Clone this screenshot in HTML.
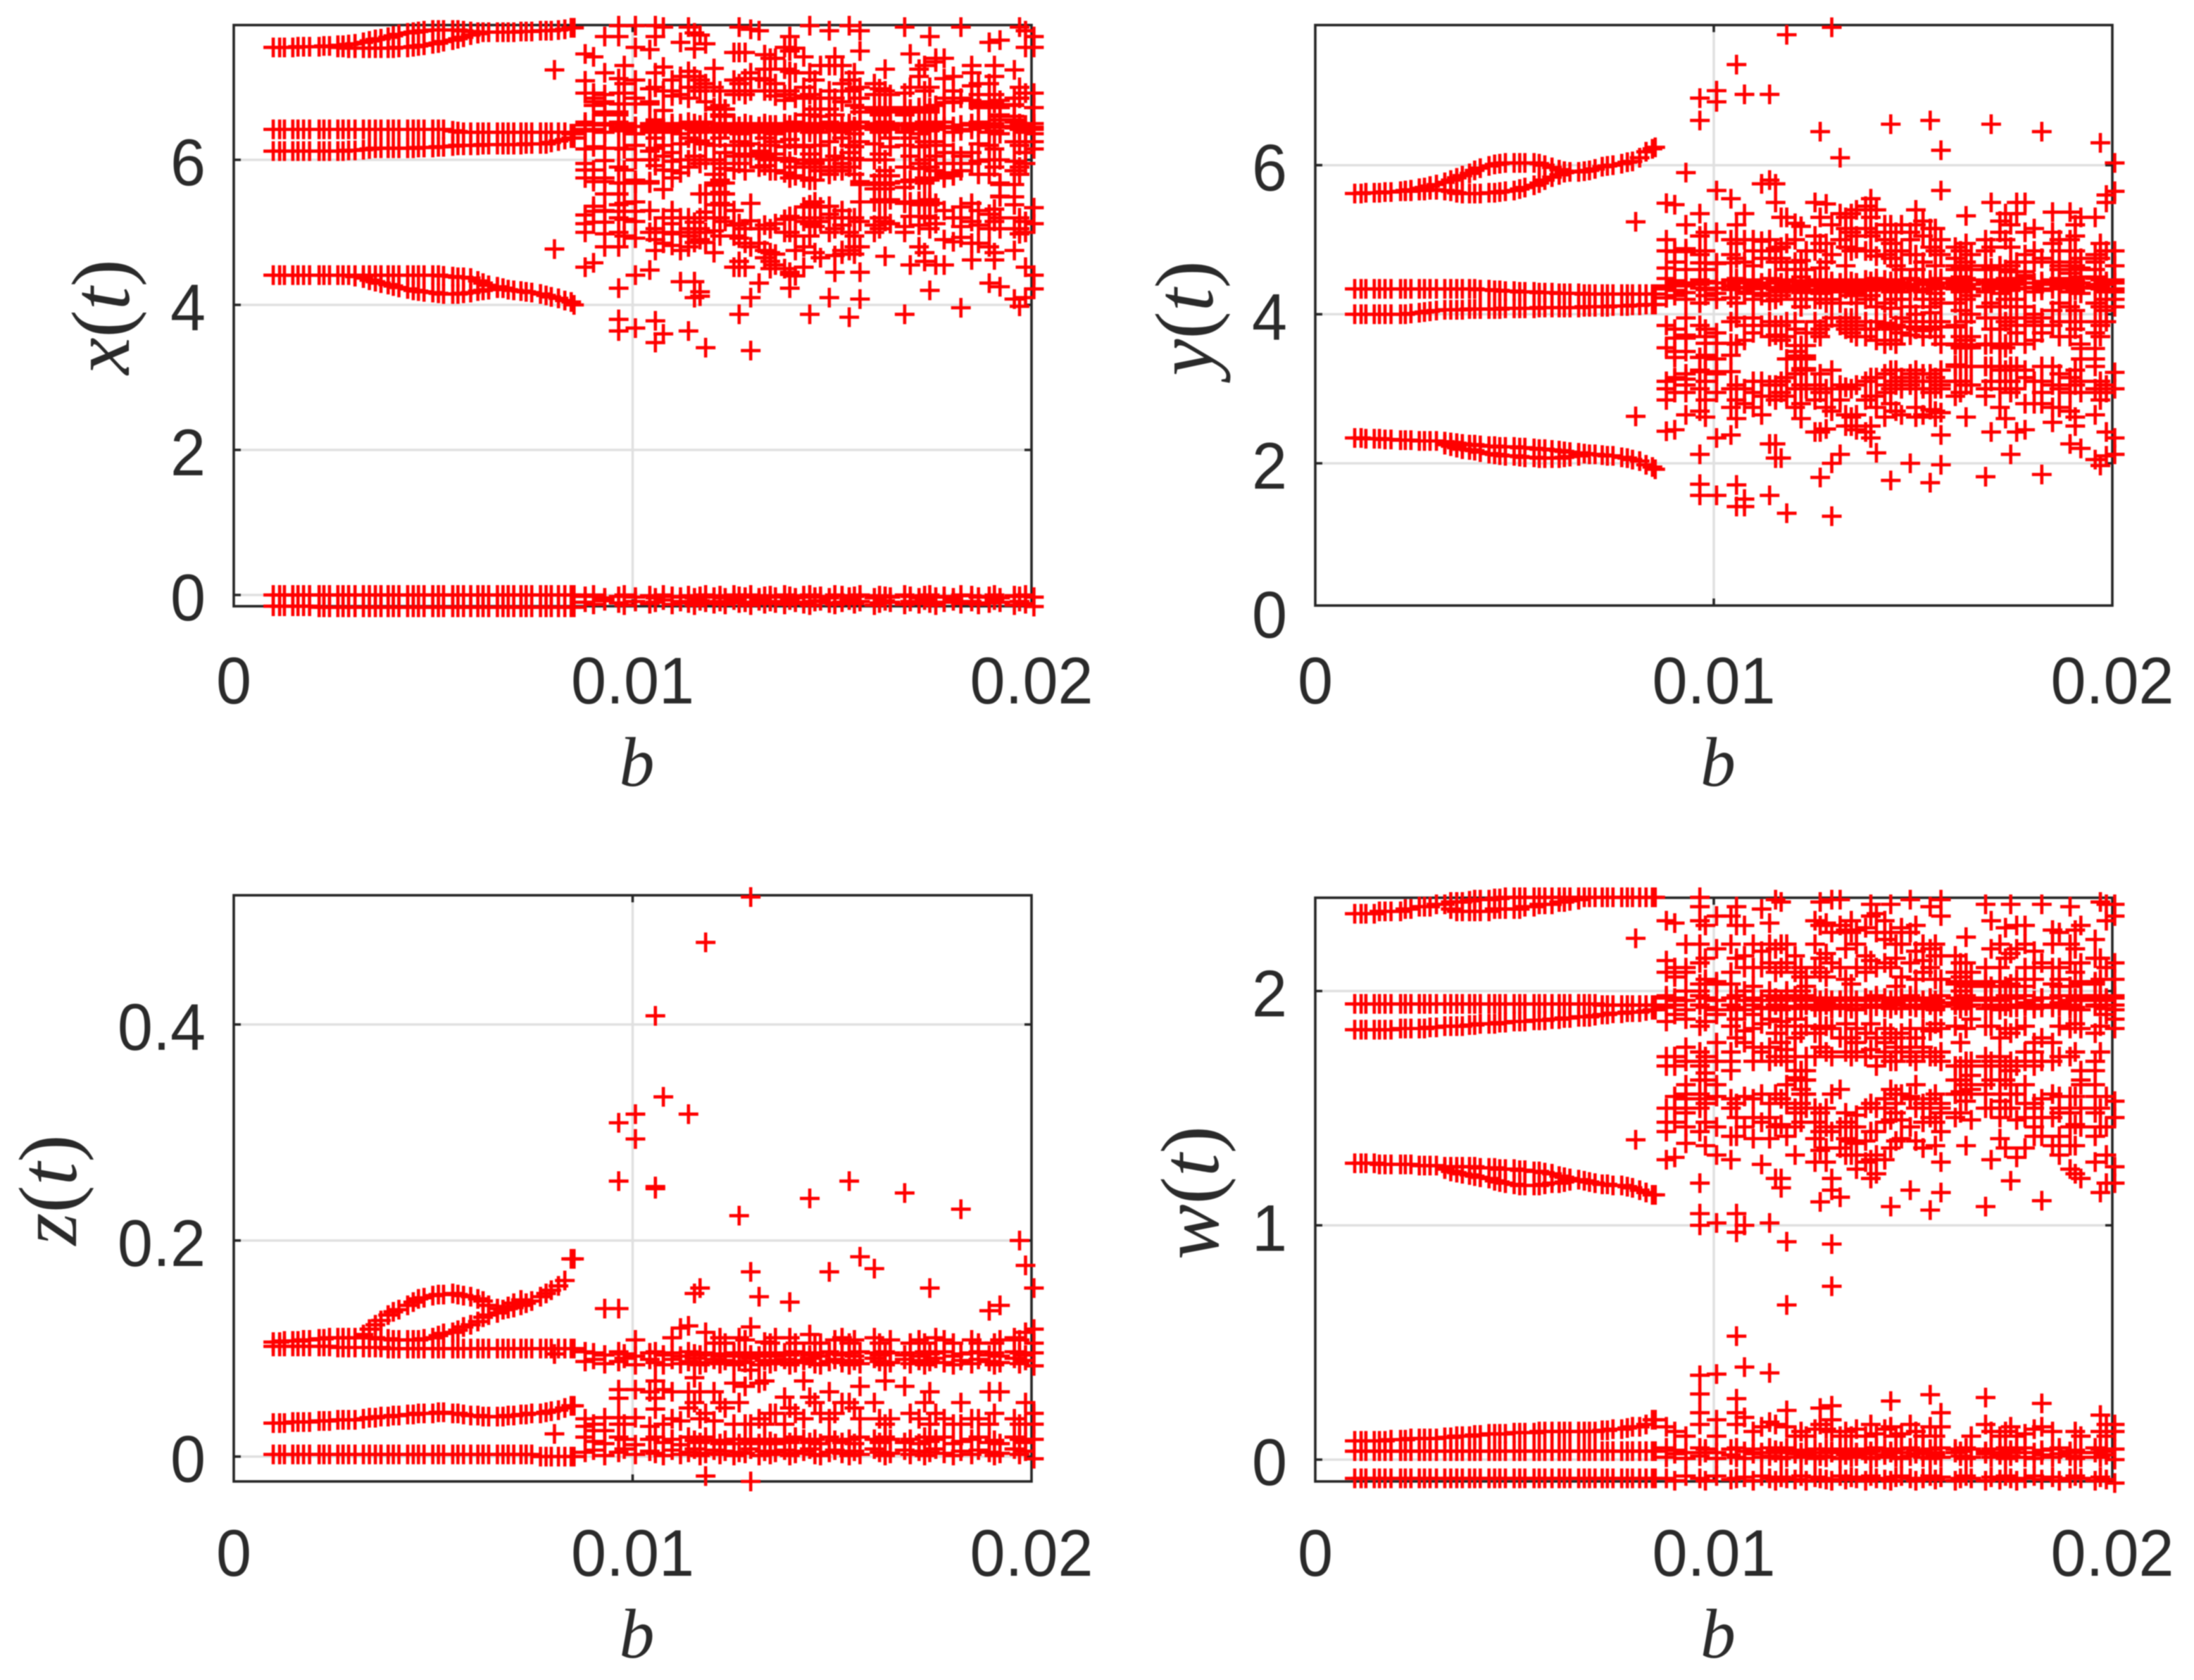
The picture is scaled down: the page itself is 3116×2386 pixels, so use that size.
<!DOCTYPE html>
<html lang="en">
<head>
<meta charset="utf-8">
<title>Bifurcation diagrams of x(t), y(t), z(t), w(t) against b</title>
<style>
html,body{margin:0;padding:0;background:#fff;width:3116px;height:2386px;overflow:hidden}
svg{display:block;filter:blur(.7px)}
text{font-family:"Liberation Sans",sans-serif;fill:#2a2a2a}
.math{font-family:"Liberation Serif",serif;fill:#2a2a2a}
</style>
</head>
<body>
<svg id="figure" width="3116" height="2386" viewBox="0 0 3116 2386"></svg>
<script>
/* b values are stored in thousandths (b × 1000) */
const bPeriodic=[.99,1.15,1.27,1.48,1.61,1.75,1.9,2.14,2.26,2.4,2.61,2.74,2.88,3.04,3.25,3.4,3.55,3.69,3.87,4,4.14,4.36,4.5,4.63,4.77,4.99,5.13,5.26,5.49,5.62,5.76,5.94,6.12,6.25,6.39,6.61,6.75,6.88,7.02,7.2,7.33,7.47,7.69,7.83,7.96,8.14,8.3,8.46,8.53];
const bChaos=[8.04,8.81,9.02,9.3,9.65,9.79,10.07,10.43,10.57,10.77,10.99,11.2,11.4,11.55,11.69,11.83,12.04,12.19,12.32,12.54,12.67,12.82,12.96,13.17,13.31,13.45,13.58,13.81,13.94,14.08,14.29,14.44,14.57,14.71,14.93,15.07,15.25,15.43,15.56,15.7,16.06,16.19,16.33,16.46,16.82,16.96,17.18,17.32,17.45,17.6,17.81,18.04,18.23,18.5,18.67,18.94,19.07,19.21,19.57,19.7,19.85,20.06];
const bLump=[9.02,9.3,9.65,9.79,10.07,10.43,12.04,12.19,12.32,13.31,13.58,14.29,14.57,14.93,15.25,15.7,16.06,16.33,16.82,17.18,17.45,17.81,18.04,18.67,18.94,19.21,19.57];
const xTickValues=[0,10,20];
const xTickLabels=['0','0.01','0.02'];

/* x(t) */
const xTicksY=[0,2,4,6];
const xBranchTopUpper=[7.55,7.55,7.55,7.55,7.56,7.56,7.56,7.56,7.57,7.57,7.58,7.58,7.59,7.6,7.62,7.64,7.66,7.67,7.69,7.71,7.73,7.75,7.76,7.77,7.78,7.79,7.79,7.79,7.79,7.79,7.78,7.77,7.76,7.76,7.76,7.76,7.76,7.76,7.76,7.77,7.77,7.77,7.78,7.78,7.78,7.79,7.8,7.82,7.82];
const xBranchTopLower=[,,,,,,,,,,7.55,7.55,7.54,7.54,7.54,7.54,7.54,7.54,7.54,7.54,7.55,7.55,7.56,7.57,7.58,7.6,7.61,7.63,7.65,7.67,7.69,7.72,7.74];
const xBranchMidUpper=[6.42,6.42,6.42,6.42,6.42,6.42,6.42,6.42,6.42,6.42,6.42,6.42,6.42,6.42,6.42,6.42,6.42,6.42,6.42,6.42,6.42,6.42,6.42,6.42,6.42,6.42,6.42,6.42,6.4,6.39,6.38,6.38,6.38,6.38,6.38,6.38,6.38,6.38,6.38,6.38,6.38,6.38,6.38,6.38,6.38,6.38,6.38,6.36,6.36];
const xBranchMidLower=[6.12,6.12,6.12,6.12,6.12,6.12,6.12,6.12,6.12,6.12,6.12,6.12,6.13,6.13,6.14,6.15,6.16,6.16,6.16,6.16,6.16,6.16,6.16,6.17,6.17,6.17,6.18,6.18,6.19,6.2,6.2,6.2,6.2,6.21,6.21,6.21,6.21,6.21,6.21,6.21,6.22,6.22,6.22,6.22,6.24,6.26,6.28,6.3,6.3];
const xBranchLowUpper=[4.41,4.41,4.41,4.41,4.41,4.41,4.41,4.41,4.41,4.41,4.41,4.41,4.41,4.41,4.41,4.41,4.41,4.41,4.41,4.41,4.41,4.41,4.41,4.41,4.41,4.41,4.41,4.4,4.39,4.38,4.38,4.37,4.33,4.3,4.27,4.25,4.23,4.21,4.2,4.19,4.18,4.17,4.15,4.13,4.11,4.09,4.06,4.04,4];
const xBranchLowLower=[,,,,,,,,,,,,,4.39,4.37,4.34,4.32,4.3,4.28,4.26,4.24,4.22,4.2,4.19,4.18,4.17,4.16,4.15,4.15,4.15,4.16,4.17,4.19,4.2,4.21,4.23];
const xBranchZero=[0,0,0,0,0,0,0,0,0,0,0,0,0,0,0,0,0,0,0,0,0,0,0,0,0,0,0,0,0,0,0,0,0,0,0,0,0,0,0,0,0,0,0,0,0,0,0,0,0];
const xBranchFloor=[-.155,-.155,-.155,-.155,-.155,-.155,-.155,-.17,-.17,-.17,-.17,-.17,-.17,-.17,-.17,-.17,-.17,-.17,-.17,-.17,-.17,-.17,-.17,-.17,-.17,-.17,-.17,-.17,-.17,-.17,-.17,-.17,-.17,-.17,-.17,-.17,-.17,-.17,-.17,-.17,-.17,-.17,-.17,-.17,-.17,-.17,-.17,-.17,-.17];
const xCoreA=[,6.52,6.5,6.48,6.52,6.5,6.46,6.5,6.52,6.48,6.5,6.46,6.52,6.5,6.48,6.52,6.5,6.46,6.48,6.5,6.46,6.5,6.48,6.46,6.5,6.48,6.46,6.5,6.48,6.52,6.5,6.48,6.5,6.46,6.52,6.5,6.48,6.5,6.46,6.52,6.5,6.48,6.52,6.5,6.48,6.5,6.46,6.52,6.48,6.5,6.52,6.46,6.48,6.5,6.52,6.48,6.5,6.46,6.52,6.5,6.48,6.5];
const xCoreB=[,6.42,6.4,6.38,6.44,6.42,6.36,6.42,6.44,6.38,6.42,6.36,6.44,6.42,6.38,6.44,6.4,6.38,6.42,6.4,6.36,6.42,6.38,6.4,6.42,6.38,6.36,6.42,6.4,6.44,6.42,6.38,6.42,6.38,6.44,6.4,6.38,6.42,6.36,6.44,6.42,6.38,6.44,6.42,6.38,6.42,6.36,6.44,6.4,6.42,6.44,6.38,6.4,6.42,6.44,6.38,6.4,6.36,6.44,6.42,6.38,6.42];
const xFloorA=[,-.02,0,-.04,-.02,0,-.03,-.01,-.04,0,-.02,-.03,-.01,-.04,-.02,0,-.03,-.01,-.04,0,-.02,-.03,0,-.04,-.02,-.01,-.03,0,-.02,-.04,-.01,0,-.03,-.02,-.04,0,-.01,-.03,-.02,0,-.04,-.01,-.02,-.03,0,-.02,-.04,-.01,0,-.03,-.02,-.04,0,-.01,-.03,-.02,0,-.04,-.01,-.02,0,-.03];
const xFloorB=[,-.1,-.13,-.08,-.11,-.14,-.09,-.12,-.1,-.07,-.13,-.09,-.11,-.14,-.08,-.1,-.12,-.09,-.13,-.07,-.11,-.1,-.14,-.08,-.12,-.09,-.11,-.13,-.07,-.1,-.12,-.14,-.09,-.08,-.11,-.13,-.1,-.07,-.12,-.09,-.14,-.11,-.08,-.1,-.13,-.09,-.12,-.07,-.11,-.14,-.1,-.08,-.12,-.09,-.13,-.11,-.07,-.1,-.14,-.09,-.12,-.16];
const xLump=[[6.85,6.8,5.75,5.29],[6.66,6.8,5.75,5.53,5.29],[6.77,6.66,5.53,5.68,5.29],[6.77,5.68,5.29],[6.77,5.68,5.29],[6.77,5.68,6],[6.7,5.68,5.38],[6.7,6.6,5.68,5.38,5.53],[6.7,6.6,5.53,5.38],[6.08,6.02],[6.08,6.02],[5.9,5.95],[5.9,5.95],[5.9,5.85],[5.9,5.95],[6.72,6.66,5.66,5.42],[6.72,6.66,5.66,5.6,5.42],[6.72,6.66,5.66,5.6,5.42],[6.72,6.66,5.62,5.42],[6.72,6.66,5.42,5.38],[6.72,6.66,5.42,5.38],[6.79,5.82,5.78],[6.79,5.82,5.78],[6.76,6.72],[6.76,6.72],[6.76,6.6,6.55,5.66,5.49],[6.76,6.6,6.55,5.66,5.49]];
const xCloud=[[7.24,4.77],[7.46,7.09,6.92,6.48,6.4,6.15,5.95,5.86,5.75,5.24,5.12,5,4.52],[7.42,6.92,6.75,6.5,6.42,6.18,5.86,5.7,5.36,5.14,4.58],[7.7,7.2,6.9,6.78,6.62,6.5,6.38,6.16,5.99,5.7,5.3,5.14,4.98,4.8],[7.85,7.7,7.12,6.92,6.62,6.5,6.42,6.16,5.9,5.53,5.38,5.2,5,4.8,4.23,3.8,3.64],[7.3,7.05,6.92,6.48,6.4,6.15,5.86,5.68,5.4,5.18,4.95],[7.85,7.55,7.1,6.85,6.46,6.36,6.2,6,5.72,5.68,5.42,5.15,4.92,4.41,3.68],[7.52,6.98,6.8,6.46,6.38,6.12,6,5.7,5.3,5,4.48],[7.85,7.7,7.2,7,6.55,6.42,6.3,6.16,5.92,5.05,4.9,4.75,3.78,3.48],[7.83,7.28,6.95,6.68,6.45,6.2,6.05,5.86,5.59,5.2,5,4.85,3.6],[7.1,6.95,6.88,6.46,6.38,6.1,5.98,5.85,5.75,5.3,5.12,4.98,4.82],[7.62,7.15,6.9,6.5,6.22,6,5.82,5.2,5,4.75,4.32],[7.83,7.22,7,6.85,6.44,6.3,6,5.9,5.2,5.05,4.95,4.8,3.64],[7.75,7.53,7.15,7,6.45,6.25,6.05,5.14,5,4.86,4.32,4.1],[7.72,7.1,6.95,6.48,6.26,5.95,5.53,5.2,5.05,4.9,4.18,4.12],[7.6,7.05,6.8,6.42,6.22,6,5.53,5.28,5,4.86,3.41],[7.26,7,6.72,6.5,6.2,6,5.8,5.65,5.2,5.02,4.72],[6.95,6.75,6.62,6.48,6.3,5.95,5.72,5.55,5.4,5.2,4.95],[6.7,6.62,6.42,6.1,5.88,5.68,5.53,5.38,5.15],[7.48,7.1,6.9,6.46,6.2,6.05,5.86,5.3,5.1,4.95,4.52],[7.83,7.48,7.05,6.95,6.46,6.25,6.05,5.95,5.12,4.92,4.6,4.52,3.87],[7.48,7.12,6.9,6.42,6.2,6.08,5.85,5.05,4.85,4.52],[7.8,7.2,6.95,6.45,6.22,6.05,5.4,5.16,4.8,4.1,3.37],[7.78,7.12,6.42,6.12,5.9,5.05,4.85,4.3],[7.45,7.25,7.1,6.95,6.46,6.3,6.05,5.92,5.1,4.75,4.65],[7.4,7.25,6.95,6.45,6.2,6,5.85,5.05,4.72,4.6,4.5],[7.4,7.05,6.88,6.48,6.25,6.02,5.85,5.12,4.7,4.55],[7.55,7.25,6.9,6.82,6.46,6.18,6.02,5.82,5.18,5,4.5],[7.7,7.5,7.22,6.95,6.44,6.28,5.98,5.75,5.22,5,4.45,4.42,4.23],[7.54,7.2,6.85,6.48,6.2,5.9,5.78,5.2,4.95,4.75,4.4],[7.42,7,6.88,6.62,6.46,6.18,6,5.75,5.35,5.15,4.8,4.52],[7.85,7.2,6.9,6.62,6.46,6.08,5.95,5.72,5.38,5.12,4.95,3.87],[7.1,6.85,6.7,6.45,6.2,5.98,5.72,5.42,5.2,5.08,4.72],[7.3,6.85,6.6,6.48,6.2,6,5.85,5.35,5.15,4.65],[7.78,7.3,6.95,6.7,6.46,6.25,6,5.8,5.36,5.25,5,4.1],[7.42,7.3,6.85,6.62,6.44,6.05,5.85,5.2,5.05,4.68,4.45],[7.3,7.05,6.8,6.5,6.3,6.02,5.85,5.3,5.1,4.75,4.7],[7.85,7.1,6.95,6.48,6.2,6.1,5.9,5.2,5,4.75,3.83],[7.2,6.98,6.75,6.45,6.18,6.02,5.8,5.2,4.95,4.8,4.7],[7.78,7.5,7,6.85,6.46,6.25,6,5.7,5.42,5.15,4.8,4.45,4.08],[7.05,6.9,6.7,6.46,6.22,6,5.68,5.42,5.1,5],[6.98,6.72,6.62,6.44,6.08,5.78,5.68,5.45,5.2,5.05],[7.25,6.95,6.72,6.5,6.42,6,5.85,5.68,5.42,5.15,4.67],[6.9,6.7,6.46,6.3,6.18,5.78,5.68,5.45,5.12],[7.83,6.92,6.7,6.62,6.48,6.2,5.9,5.7,5.4,5.08,5,3.87],[7.46,7,6.7,6.44,6.3,6.05,5.72,5.42,5.22,4.55],[7.25,7.15,6.72,6.48,6.18,5.95,5.88,5.72,5.43,5.1,4.8],[7.3,6.95,6.68,6.45,6.25,6,5.75,5.68,5.42,5.22,4.72,4.6],[7.7,7,6.7,6.5,6.2,5.9,5.72,5.45,5.2,5.05,4.2],[7.4,7.35,6.75,6.46,6.25,6.05,5.85,5.4,5.12,4.55],[7.4,7.12,6.85,6.46,6.2,6.1,5.95,5.75,5.3,4.9,4.55],[7.15,6.95,6.8,6.44,6.1,5.95,5.78,5.2,4.87],[7.83,6.85,6.42,6.05,5.85,5.35,5.2,5.08,4.93,3.96],[7.3,7.2,7.02,6.82,6.5,6.1,5.95,5.4,5.15,4.85,4.62],[7.05,6.9,6.78,6.46,6.22,5.98,5.8,5.3,5.1,4.85],[7.62,7.05,6.8,6.45,6.2,6,5.8,5.25,5.05,4.8,4.3],[7.3,7.15,6.9,6.78,6.46,6.15,5.9,5.32,5.15,4.72,4.62],[7.65,6.82,6.72,6.62,6.45,6,5.68,5.5,5.2,5.05,4.25],[7.24,6.85,6.75,6.46,6.25,5.98,5.85,5.38,5.05,4.75,4.08],[7.83,7,6.85,6.42,6.2,5.9,5.8,5.2,5.05,4.98,3.98],[7.78,7.55,6.92,6.4,6.25,6.1,5.95,5.15,5,4.52,4.1],[7.7,7.55,6.92,6.72,6.45,6.36,6.25,6.15,5.34,5.12,4.41,4.22]];

/* y(t) */
const yTicksY=[0,2,4,6];
const yBranchTopUpper=[5.62,5.62,5.63,5.63,5.63,5.64,5.64,5.65,5.66,5.67,5.69,5.7,5.72,5.74,5.77,5.8,5.83,5.86,5.89,5.93,5.96,5.99,6.01,6.02,6.03,6.03,6.03,6.03,6.03,6.02,6,5.97,5.94,5.92,5.91,5.91,5.92,5.93,5.95,5.98,5.99,6,6.02,6.04,6.05,6.1,6.18,6.22,6.24];
const yBranchTopLower=[,,,,,,,,5.65,5.65,5.66,5.66,5.67,5.67,5.66,5.65,5.63,5.62,5.62,5.62,5.62,5.63,5.63,5.64,5.65,5.66,5.68,5.7,5.73,5.76,5.8,5.84,5.87,5.9];
const yBranchMidUpper=[4.34,4.34,4.34,4.34,4.34,4.34,4.34,4.34,4.34,4.34,4.34,4.34,4.34,4.34,4.34,4.34,4.34,4.34,4.34,4.34,4.33,4.33,4.32,4.32,4.31,4.31,4.3,4.3,4.3,4.29,4.29,4.29,4.28,4.28,4.28,4.28,4.27,4.27,4.27,4.27,4.27,4.27,4.27,4.27,4.27,4.27,4.27,4.27,4.27];
const yBranchMidLower=[4,4,4,4,4,4,4,4,4,4.01,4.02,4.03,4.04,4.05,4.06,4.06,4.06,4.06,4.07,4.07,4.07,4.07,4.07,4.07,4.08,4.08,4.08,4.08,4.08,4.09,4.09,4.09,4.09,4.09,4.09,4.09,4.1,4.1,4.1,4.1,4.1,4.11,4.11,4.11,4.12,4.12,4.13,4.13,4.13];
const yBranchLowUpper=[2.34,2.34,2.33,2.33,2.33,2.32,2.32,2.31,2.31,2.31,2.3,2.3,2.3,2.3,2.29,2.28,2.27,2.26,2.25,2.25,2.24,2.23,2.23,2.22,2.22,2.22,2.21,2.21,2.2,2.19,2.19,2.18,2.17,2.16,2.15,2.14,2.13,2.12,2.12,2.11,2.1,2.1,2.08,2.07,2.05,2.03,1.98,1.95,1.92];
const yBranchLowLower=[,,,,,,,,,,,,,,2.25,2.23,2.21,2.19,2.18,2.17,2.15,2.13,2.12,2.11,2.1,2.1,2.09,2.08,2.08,2.07,2.07,2.07,2.07,2.08,2.09,2.1];
const yCoreA=[,4.48,4.45,4.42,4.46,4.44,4.42,4.46,4.48,4.44,4.46,4.42,4.48,4.45,4.42,4.46,4.44,4.42,4.44,4.46,4.42,4.46,4.44,4.42,4.46,4.44,4.42,4.46,4.44,4.48,4.46,4.44,4.46,4.42,4.48,4.46,4.44,4.46,4.42,4.48,4.46,4.44,4.48,4.46,4.44,4.46,4.42,4.48,4.44,4.46,4.48,4.42,4.44,4.46,4.48,4.44,4.46,4.42,4.48,4.46,4.44,4.46];
const yCoreB=[,4.34,4.32,4.29,4.35,4.33,4.28,4.33,4.35,4.3,4.34,4.28,4.35,4.33,4.3,4.35,4.32,4.29,4.33,4.32,4.28,4.34,4.3,4.32,4.34,4.3,4.28,4.34,4.32,4.35,4.34,4.3,4.34,4.3,4.35,4.32,4.3,4.34,4.28,4.35,4.34,4.3,4.35,4.34,4.3,4.34,4.28,4.35,4.32,4.34,4.35,4.3,4.32,4.34,4.35,4.3,4.32,4.28,4.35,4.34,4.3,4.34];
const yLump=[[4.84,3.68,3.13],[4.84,3.68,3.13,3.05],[4.69,3.42,3.23],[4.69,3.61,3.42,3.23],[4.69,3.61,3.23],[4.69,3.61,3.23],[3.9,3.58,3.44,3],[3.58,3.44,3.27,3],[3.58,3.44,3.27],[3.9,3.85,3.02],[3.85,3.8],[3.88,3.82,3.05],[3.83,3.1],[3.83,3.1,3.15],[3.83,3.78,3.1],[3.83,3.1,3.05],[4.65,3.59,3.3,3.83],[4.65,3.59,3.3],[4.65,4.6,3.59,3.3],[4.65,3.59,3.3,3.25],[4.57,3.3],[4.57,4.52,3.25],[3.9,3.1],[4.6,3.05],[4.55,3.05],[4.6,4.5,3.54,3.4],[4.6,4.5,3.54,3.4]];
const yCloud=[[5.24,2.63],[5.49,5,4.85,4.62,4.38,4.22,3.85,3.55,3.1,3,2.85,2.43],[5.47,4.85,4.7,4.42,4.25,3.8,3.5,3.42,3.15,2.95,2.45],[5.9,5.2,4.88,4.6,4.38,4.2,3.95,3.72,3.5,3.2,2.95,2.65],[6.9,6.6,5.35,5.05,4.8,4.4,4.15,3.85,3.42,3.25,3,2.7,2.12,1.72,1.57],[5.1,4.85,4.6,4.35,4.25,3.8,3.7,3.45,3.1,2.85,2.62],[7,6.85,5.66,5.1,4.68,4.35,4.2,3.75,3.4,3.2,2.95,2.34,1.57],[5.55,5,4.8,4.38,4.22,3.9,3.45,3,2.75,2.38],[7.35,5.2,4.95,4.75,4.42,4.15,3.95,3.6,3.05,2.85,2.6,1.71,1.42],[6.95,5.35,5,4.7,4.36,4.28,3.85,3.65,3,2.8,1.52,1.42],[5,4.85,4.65,4.4,4.2,3.95,3.75,3.1,2.95,2.75],[5.75,4.98,4.75,4.38,4.25,3.85,3.1,2.9,2.65],[6.95,5.8,5,4.85,4.42,4.18,3.9,3.7,3.05,2.9,2.26,1.57],[5.75,5.5,4.88,4.7,4.36,4.2,3.85,3.72,3.05,2.85,2.26,2.07],[5.3,4.9,4.75,4.42,4.25,3.85,3.65,3.1,2.95,2.07],[7.75,5.3,4.95,4.6,4.38,3.9,3.7,3.4,3.15,2.9,1.33],[5.22,5,4.7,4.45,4.2,3.8,3.5,3.42,3.2,2.75],[5.18,4.72,4.5,4.36,4.1,3.42,3.25,3.05,2.8,2.6],[4.85,4.6,4.4,4.2,3.75,3.4,3.25,3],[5.5,5.05,4.85,4.42,4.2,3.9,3.75,3.05,2.85,2.42],[6.45,5.3,4.95,4.62,4.38,4.2,3.8,3.7,3.2,2.95,2.42,1.81],[5.48,4.95,4.7,4.36,4.15,3.85,3,2.75,2.46],[7.85,5.2,4.8,4.4,4.2,3.95,3.25,3,2.7,2,1.29],[6.1,5.35,5,4.42,4.15,3.85,3.05,2.85,2.12],[5.3,5.15,4.9,4.65,4.38,3.95,3.8,3.02,2.65,2.5],[5.35,5.1,4.85,4.36,4.25,3.95,3.75,3,2.62,2.5],[5.4,5.05,4.88,4.42,4.15,3.9,3.7,3.05,2.65,2.45],[5.45,5.15,4.85,4.4,4.2,3.9,3.7,3.1,2.85,2.42],[5.55,5.3,5.05,4.85,4.38,4.25,3.8,3.15,2.9,2.5,2.34],[5.4,5.1,4.78,4.42,4.1,3.9,3.65,3.15,2.9,2.75,2.14],[5.2,5,4.8,4.38,4.15,3.85,3.6,3.2,2.95,2.62],[6.55,5.2,4.95,4.75,4.4,4.08,3.8,3.65,3.25,3,2.8,1.77],[5.1,4.85,4.65,4.36,4.2,3.85,3.6,3.25,3.05,2.7],[5.2,4.85,4.6,4.42,4.2,3.95,3.75,3.15,3,2.65],[5.1,5,4.8,4.38,4.1,3.9,3.72,3.2,3.05,2],[5.4,5.2,4.8,4.6,4.4,4,3.8,3.25,3,2.75,2.62],[5.25,5.05,4.7,4.42,4.2,3.9,3.7,3.2,3,2.65],[6.6,5.15,4.9,4.4,4.1,4.02,3.8,3.2,2.95,2.72,1.74],[5.15,4.85,4.65,4.38,4.2,3.9,3.7,3.15,3,2.7,2.62],[6.2,5.66,5,4.8,4.42,4.15,3.9,3.6,3.25,3,2.68,2.38,1.98],[4.9,4.75,4.6,4.38,4.15,3.85,3.6,3.32,3.1,2.9],[4.85,4.62,4.5,4.42,4.05,3.7,3.55,3.3,3.1,2.95],[5.32,4.95,4.7,4.38,4.2,3.9,3.65,3.55,3.3,3.05,2.62],[4.8,4.6,4.4,4.25,4,3.7,3.55,3.3,3.05],[5,4.85,4.6,4.42,4.1,3.95,3.6,3.3,3,2.9,1.82],[6.55,5.5,4.9,4.62,4.38,4.15,3.8,3.6,3.3,3.1,2.42],[5.25,5.1,4.65,4.4,4.1,3.95,3.8,3.55,3.25,3,2.75],[5.35,5,4.6,4.42,4.2,3.9,3.6,3.55,3.25,3.1,2.6],[5.2,4.9,4.65,4.38,4.1,3.85,3.6,3.3,3.1,2.95,2.12],[5.5,5.35,4.7,4.4,4.2,3.95,3.75,3.3,3,2.42],[5.5,5.1,4.8,4.42,4.1,3.95,3.85,3.6,3.15,2.8,2.45],[5.15,4.85,4.7,4.36,4,3.85,3.65,3.1,2.8],[6.45,4.75,4.4,3.95,3.75,3.3,3.1,2.95,2.8,1.85],[5.37,5.1,4.95,4.7,4.42,4.05,3.85,3.3,3.05,2.75,2.55],[5,4.85,4.65,4.38,4.15,3.9,3.7,3.2,3,2.75],[5.37,5,4.7,4.42,4.1,3.9,3.7,3.15,2.95,2.7,2.26],[5.2,5.05,4.85,4.65,4.4,4.05,3.8,3.25,3.05,2.62,2.5],[5.3,4.75,4.62,4.36,3.9,3.6,3.4,3.1,2.95,2.2],[5.3,4.8,4.7,4.4,4.15,3.9,3.75,3.3,3,2.65,2.05],[6.3,4.95,4.75,4.38,4.1,3.85,3.7,3.1,2.95,2.85,1.97],[5.6,5.5,4.85,4.4,4.2,4.05,3.9,3.05,2.95,2.42,2.1],[6.03,5.65,4.85,4.65,4.42,4.3,4.2,4.1,3.22,3,2.34,2.12]];

/* z(t) */
const zTicksY=[0,.2,.4];
const zBranchTopUpper=[.106,.106,.107,.107,.107,.108,.108,.109,.109,.11,.11,.11,.11,.11,.113,.118,.122,.126,.131,.134,.136,.14,.143,.146,.147,.149,.15,.15,.151,.15,.149,.148,.146,.144,.14,.137,.136,.137,.138,.14,.142,.144,.148,.151,.154,.158,.163,.183,.183];
const zBranchTopLower=[,,,,,,,,,,,,,,.111,.11,.11,.109,.109,.108,.108,.108,.108,.108,.109,.11,.112,.114,.115,.117,.12,.122,.125,.129,.131,.133,.136,.139,.142,.145];
const zBranchFlat=[.102,.102,.102,.102,.102,.102,.102,.102,.102,.102,.101,.101,.101,.101,.101,.101,.101,.101,.1,.1,.1,.1,.1,.1,.1,.1,.1,.1,.1,.1,.1,.1,.1,.1,.1,.1,.1,.1,.1,.1,.1,.1,.1,.1,.1,.1,.1,.1,.1];
const zBranchLow=[.031,.031,.031,.032,.032,.032,.032,.033,.033,.033,.034,.034,.034,.034,.035,.036,.036,.037,.037,.038,.038,.039,.039,.04,.04,.04,.041,.041,.04,.04,.039,.038,.038,.037,.037,.037,.037,.038,.038,.039,.039,.04,.04,.041,.042,.043,.045,.047,.047];
const zBranchFloor=[.002,.002,.002,.002,.002,.002,.002,.002,.002,.002,.002,.002,.002,.002,.002,.002,.002,.002,.002,.002,.002,.002,.002,.002,.002,.002,.002,.002,.002,.002,.002,.002,.002,.002,.002,.002,.002,.002,.002,.002,.002,.002,0,0,0,0,0,0,0];
const zBandA=[,.097,.096,.094,.097,.095,.093,.096,.097,.094,.096,.093,.097,.095,.094,.096,.095,.093,.095,.096,.093,.096,.094,.093,.096,.095,.093,.096,.094,.097,.096,.094,.096,.093,.097,.095,.094,.096,.093,.097,.096,.094,.097,.096,.094,.096,.093,.097,.095,.096,.097,.093,.095,.096,.097,.094,.096,.093,.097,.096,.094,.096];
const zBandB=[,.088,.09,.086,.088,.091,.085,.09,.087,.085,.09,.086,.088,.091,.085,.087,.09,.086,.089,.085,.088,.087,.091,.085,.089,.086,.088,.09,.085,.087,.089,.091,.086,.085,.088,.09,.087,.085,.089,.086,.091,.088,.085,.087,.09,.086,.089,.085,.088,.091,.087,.085,.089,.086,.09,.088,.085,.087,.091,.086,.089,.084];
const zFloorA=[,.018,.014,.012,.018,.016,.011,.016,.018,.013,.016,.011,.018,.015,.013,.018,.015,.012,.015,.016,.012,.016,.013,.012,.016,.014,.012,.016,.013,.018,.016,.013,.016,.012,.018,.015,.013,.016,.012,.018,.016,.013,.018,.016,.013,.016,.012,.018,.014,.016,.018,.012,.014,.016,.018,.013,.015,.012,.018,.016,.013,.016];
const zFloorB=[,.004,.006,.001,.004,.007,.002,.005,.003,.001,.006,.002,.004,.007,.001,.003,.006,.002,.005,.001,.004,.003,.007,.001,.005,.002,.004,.006,.001,.003,.005,.007,.002,.001,.004,.006,.003,.001,.005,.002,.007,.004,.001,.003,.006,.002,.005,.001,.004,.007,.003,.001,.005,.002,.006,.004,.001,.003,.007,.002,.005,-.002];
const zCloud=[[.095,.021],[.028,.035],[.024,.03],[.137,.036,.024],[.309,.255,.137,.062,.054,.036,.03],[.03],[.317,.294,.062,.036,.108],[.06,.028],[.408,.248,.25,.07,.054,.044],[.333,.062,.03],[.06,.035,.11],[.119,.033],[.317,.121,.045,.06],[.151,.073,.05],[.156,.06,.035],[.476,.115,.04,-.018],[.06,.033,.105],[.05,.11],[.045,.105],[.068,.03],[.223,.11,.05],[.065,.108,.03],[.518,.171,.12,.08,.03,-.023],[.148,.068,.035],[.07,.03,.106],[.105,.04],[.04,.11],[.055,.03],[.143,.11,.045],[.105,.04],[.07,.035],[.239,.113,.055],[.05,.105],[.04,.105],[.171,.06,.035],[.108,.04],[.11,.05],[.255,.105,.05],[.045,.108],[.185,.065,.035],[.174,.11,.05],[.105,.035],[.07,.03],[.108,.035],[.244,.065],[.105,.04],[.108,.035],[.105,.05],[.156,.06,.03],[.11,.04],[.108,.035],[.105,.03],[.229,.05,.03],[.108,.035],[.105,.035],[.135,.06,.03],[.105,.04],[.14,.108,.06],[.11,.035],[.2,.108,.03],[.177,.115,.05,.03],[.156,.118,.105,.04,.03]];

/* w(t) */
const wTicksY=[0,1,2];
const wBranchTopUpper=[2.33,2.33,2.33,2.33,2.34,2.34,2.34,2.34,2.35,2.35,2.36,2.36,2.36,2.37,2.37,2.38,2.38,2.38,2.385,2.39,2.39,2.39,2.395,2.395,2.4,2.4,2.4,2.4,2.4,2.4,2.4,2.4,2.4,2.4,2.4,2.4,2.4,2.4,2.4,2.4,2.4,2.4,2.4,2.4,2.4,2.4,2.4,2.4,2.4];
const wBranchTopLower=[,,,,,,,,,,,,,,,2.35,2.34,2.34,2.34,2.34,2.34,2.34,2.35,2.35,2.35,2.35,2.35,2.36,2.36,2.37,2.37,2.37,2.38,2.38,2.385,2.39];
const wBranchMidUpper=[1.945,1.945,1.945,1.945,1.945,1.945,1.945,1.945,1.945,1.945,1.945,1.945,1.945,1.945,1.945,1.945,1.945,1.945,1.945,1.945,1.945,1.945,1.945,1.945,1.945,1.945,1.945,1.945,1.945,1.945,1.945,1.945,1.945,1.945,1.945,1.945,1.945,1.945,1.945,1.94,1.94,1.94,1.94,1.94,1.94,1.94,1.94,1.94,1.94];
const wBranchMidLower=[1.835,1.835,1.835,1.835,1.835,1.835,1.835,1.84,1.84,1.84,1.84,1.84,1.845,1.845,1.85,1.85,1.85,1.85,1.855,1.855,1.86,1.86,1.86,1.865,1.865,1.87,1.87,1.87,1.875,1.875,1.875,1.88,1.88,1.885,1.885,1.89,1.89,1.89,1.895,1.9,1.9,1.905,1.905,1.91,1.91,1.91,1.915,1.92,1.92];
const wBranchLowUpper=[1.265,1.265,1.265,1.265,1.26,1.26,1.26,1.26,1.26,1.26,1.255,1.255,1.255,1.255,1.25,1.25,1.25,1.25,1.25,1.25,1.245,1.245,1.245,1.24,1.24,1.24,1.235,1.235,1.23,1.23,1.225,1.22,1.21,1.205,1.2,1.195,1.19,1.185,1.18,1.175,1.175,1.17,1.17,1.165,1.16,1.15,1.14,1.13,1.13];
const wBranchLowLower=[,,,,,,,,,,,,,,1.24,1.23,1.225,1.22,1.215,1.21,1.205,1.2,1.19,1.185,1.18,1.175,1.17,1.17,1.17,1.17,1.175,1.18,1.18,1.185,1.19];
const wBranchZeroUpper=[.08,.08,.08,.08,.08,.08,.085,.085,.085,.09,.09,.09,.09,.09,.095,.095,.1,.1,.1,.105,.105,.11,.11,.11,.11,.115,.115,.115,.115,.12,.12,.12,.12,.12,.12,.12,.12,.12,.12,.125,.125,.13,.13,.135,.14,.14,.15,.17,.17];
const wBranchZeroMiddle=[.036,.036,.036,.036,.036,.036,.036,.036,.036,.036,.036,.036,.036,.036,.036,.036,.036,.036,.036,.036,.036,.036,.036,.036,.036,.036,.036,.036,.036,.036,.036,.036,.036,.036,.036,.036,.036,.036,.036,.036,.036,.036,.036,.036,.036,.036,.036,.036,.036];
const wBranchFloor=[-.08,-.08,-.08,-.08,-.08,-.08,-.08,-.08,-.08,-.08,-.08,-.08,-.08,-.08,-.08,-.08,-.08,-.08,-.08,-.08,-.08,-.08,-.08,-.08,-.08,-.08,-.08,-.08,-.08,-.08,-.08,-.08,-.08,-.08,-.08,-.08,-.08,-.08,-.08,-.08,-.08,-.08,-.08,-.08,-.08,-.08,-.08,-.08,-.08];
const wCoreA=[,1.98,1.97,1.96,1.98,1.97,1.96,1.97,1.98,1.96,1.97,1.96,1.98,1.97,1.96,1.98,1.97,1.96,1.97,1.97,1.96,1.97,1.96,1.96,1.97,1.97,1.96,1.97,1.96,1.98,1.97,1.96,1.97,1.96,1.98,1.97,1.96,1.97,1.96,1.98,1.97,1.96,1.98,1.97,1.96,1.97,1.96,1.98,1.97,1.97,1.98,1.96,1.97,1.97,1.98,1.96,1.97,1.96,1.98,1.97,1.96,1.97];
const wCoreB=[,1.93,1.94,1.92,1.94,1.93,1.92,1.94,1.93,1.92,1.94,1.925,1.93,1.94,1.92,1.935,1.93,1.925,1.94,1.93,1.92,1.94,1.925,1.93,1.94,1.925,1.92,1.94,1.93,1.935,1.94,1.925,1.94,1.925,1.935,1.93,1.925,1.94,1.92,1.935,1.94,1.925,1.935,1.94,1.925,1.94,1.92,1.935,1.93,1.94,1.935,1.925,1.93,1.94,1.935,1.925,1.93,1.92,1.935,1.94,1.925,1.94];
const wLowA=[,.05,.04,.03,.05,.045,.03,.045,.05,.035,.045,.03,.05,.04,.035,.05,.04,.03,.04,.045,.03,.045,.035,.03,.045,.04,.03,.045,.035,.05,.045,.035,.045,.03,.05,.04,.035,.045,.03,.05,.045,.035,.05,.045,.035,.045,.03,.05,.04,.045,.05,.03,.04,.045,.05,.035,.04,.03,.05,.045,.035,.045];
const wLowB=[,.01,.025,.005,.015,.03,.005,.02,.01,.005,.025,.01,.015,.03,.005,.01,.025,.01,.02,.005,.015,.01,.03,.005,.02,.01,.015,.025,.005,.01,.02,.03,.01,.005,.015,.025,.01,.005,.02,.01,.03,.015,.005,.01,.025,.01,.02,.005,.015,.03,.01,.005,.02,.01,.025,.015,.005,.01,.03,.01,.02,0];
const wLowC=[,-.08,-.09,-.07,-.08,-.09,-.07,-.085,-.08,-.075,-.09,-.07,-.08,-.09,-.075,-.08,-.085,-.07,-.09,-.075,-.08,-.085,-.09,-.07,-.085,-.075,-.08,-.09,-.07,-.08,-.085,-.09,-.075,-.07,-.08,-.09,-.08,-.07,-.085,-.075,-.09,-.08,-.07,-.08,-.09,-.075,-.085,-.07,-.08,-.09,-.08,-.07,-.085,-.075,-.09,-.08,-.07,-.08,-.09,-.075,-.085,-.1];
const wLump=[[2.08,1.72,1.5],[2.08,1.7,1.54,1.5],[2.03,1.62,1.56],[2.03,1.7,1.62,1.54],[2.03,1.7,1.55],[2.03,1.7,1.54],[1.8,1.66,1.62,1.48],[1.66,1.62,1.58,1.52],[2.02,1.66,1.62,1.56],[1.8,1.48],[1.78,1.42],[1.78,1.74,1.5],[1.76,1.52],[1.76,1.74,1.54],[1.74,1.5],[1.74,1.52,1.48],[2.04,1.68,1.56],[2.04,2.02,1.68,1.56],[2.04,2.02,1.68,1.56],[2.04,1.68,1.56,1.53],[2.02,1.66,1.56],[2.02,1.7,1.52],[1.74,1.5],[2.02,1.5],[2.02,1.48],[2.03,1.98,1.66,1.6],[2.03,1.98,1.66,1.6]];
const wCloud=[[2.225,1.365],[2.3,2.13,2.08,1.97,1.87,1.72,1.68,1.5,1.44,1.4,1.28,.14],[2.29,2.1,2.06,1.96,1.9,1.72,1.68,1.55,1.5,1.44,1.29,.12],[2.2,2.1,2,1.88,1.76,1.7,1.6,1.56,1.48,1.42,1.35,.1],[2.4,2.36,2.3,2.2,2.12,2,1.85,1.74,1.68,1.56,1.5,1.4,1.18,1.05,1,.36,.28,.2,.15],[2.28,2.14,2.05,1.97,1.87,1.72,1.65,1.52,1.44,1.34],[2.32,2.18,2.04,1.9,1.78,1.7,1.6,1.55,1.42,1.3,1.01,.365,.17,.1],[2.32,2.2,2.08,1.92,1.85,1.74,1.66,1.5,1.38,1.28],[2.36,2.28,2.14,1.98,1.88,1.8,1.52,1.46,1.38,1.05,.97,.527,.26,.2,.15],[2.28,2.15,2.1,2,1.83,1.78,1.55,1.42,1,.395,.18],[2.2,2.1,2.02,1.9,1.84,1.76,1.7,1.54,1.46,1.37,.12],[2.35,2.17,2.1,1.93,1.86,1.74,1.56,1.44,1.26,.14],[2.29,2.2,2.12,2,1.88,1.76,1.7,1.52,1.46,1.37,1.01,.37,.16],[2.39,2.18,2.08,1.97,1.82,1.72,1.56,1.42,1.2,.15],[2.38,2.2,2.1,1.93,1.87,1.78,1.72,1.54,1.43,1.2,1.16],[2.2,2.12,2,1.85,1.75,1.7,1.6,1.52,1.38,.93,.66,.21,.14],[2.15,2.08,1.98,1.88,1.72,1.63,1.5,1.42,1.3,.1],[2.1,2.06,2,1.93,1.82,1.66,1.62,1.56,1.44,.12],[2.06,1.98,1.85,1.72,1.62,1.56,1.5,.1],[2.3,2.2,2.1,1.96,1.82,1.72,1.5,1.44,1.37,1.27,.13],[2.38,2.28,2.14,2.08,1.94,1.84,1.76,1.48,1.4,1.32,1.1,.22,.15],[2.29,2.16,2.06,1.95,1.85,1.74,1.5,1.42,1.33,1.27,.13],[2.39,2.25,2.12,1.93,1.84,1.72,1.56,1.4,1.2,1.15,.92,.74,.23,.17,.12],[2.39,2.28,2.1,1.96,1.8,1.58,1.42,1.33,1.12,.1],[2.26,2.18,2.05,1.94,1.86,1.74,1.44,1.37,1.3,.12],[2.3,2.25,2.03,1.97,1.8,1.72,1.42,1.36,1.3,.1],[2.26,2.2,2.1,1.94,1.84,1.74,1.47,1.35,1.3,1.24,.13],[2.27,2.15,2.08,1.96,1.82,1.72,1.5,1.36,1.27,.1],[2.37,2.32,2.13,1.94,1.86,1.75,1.52,1.4,1.28,1.2,.15],[2.33,2.25,2.1,1.97,1.8,1.68,1.5,1.4,1.3,1.22,.11],[2.3,2.22,2.12,1.93,1.84,1.72,1.54,1.44,1.28,.13],[2.37,2.25,2.1,1.95,1.82,1.7,1.58,1.45,1.33,1.08,.25,.14],[2.2,2.14,2.02,1.95,1.8,1.7,1.56,1.48,1.36,.1],[2.27,2.2,2.06,1.97,1.82,1.74,1.56,1.45,1.37,.11],[2.39,2.25,2.12,1.94,1.84,1.72,1.55,1.42,1.15,.15],[2.28,2.17,2.05,1.96,1.8,1.7,1.6,1.5,1.36,.12],[2.2,2.13,2.08,1.94,1.84,1.76,1.52,1.44,1.33,.1],[2.36,2.18,2.1,1.95,1.83,1.72,1.54,1.46,1.065,.277,.14],[2.2,2.15,2.05,1.93,1.86,1.72,1.56,1.44,1.34,.1],[2.39,2.32,2.15,2.05,1.95,1.84,1.7,1.5,1.4,1.27,1.14,.2,.14],[2.15,2.08,2.03,1.94,1.85,1.68,1.62,1.56,1.46],[2.12,2.06,2,1.95,1.78,1.68,1.62,1.57,1.48],[2.23,2.12,2.03,1.96,1.84,1.7,1.6,1.53,1.34],[2.08,2.02,1.94,1.88,1.7,1.64,1.58,1.45,.1],[2.37,2.1,2.03,1.97,1.85,1.72,1.6,1.5,1.08,.265,.15],[2.3,2.18,2.02,1.93,1.85,1.7,1.62,1.5,1.28,.12],[2.2,2.1,2.02,1.96,1.8,1.72,1.62,1.46,1.37,.1],[2.27,2.14,2.02,1.94,1.84,1.68,1.62,1.5,1.33,.12],[2.37,2.16,2.03,1.97,1.82,1.7,1.6,1.5,1.19,.14],[2.28,2.18,2.05,1.93,1.84,1.68,1.56,1.45,1.29,.1],[2.28,2.2,2.1,1.95,1.85,1.74,1.6,1.46,1.33,.11],[2.17,2.1,2.05,1.94,1.78,1.68,1.52,1.42,1.38,.13],[2.37,2.12,1.97,1.8,1.7,1.54,1.46,1.38,1.105,.24,.14],[2.26,2.2,2.1,2.03,1.93,1.78,1.7,1.56,1.46,1.34,.12],[2.25,2.1,2.05,1.95,1.85,1.72,1.55,1.48,1.38,1.3],[2.36,2.2,2.12,1.94,1.84,1.72,1.55,1.42,1.34,1.24],[2.26,2.18,2.08,1.96,1.86,1.74,1.55,1.43,1.34,1.22,.12],[2.28,2.12,2.04,1.97,1.84,1.66,1.62,1.5,1.42,1.2,.1],[2.22,2.14,2.04,1.94,1.82,1.7,1.55,1.48,1.38,1.27],[2.38,2.14,2.05,1.96,1.85,1.74,1.5,1.42,1.14,.19,.12],[2.37,2.3,2.1,1.97,1.9,1.55,1.42,1.3,1.18,.15,.1],[2.37,2.32,2.12,2.05,1.98,1.92,1.88,1.84,1.53,1.46,1.25,1.18,.15,.12]];

const NS='http://www.w3.org/2000/svg';
const fig=document.getElementById('figure');
function mk(tag,parent){const e=document.createElementNS(NS,tag);parent.appendChild(e);return e;}

function drawPanel(c){
  const g=mk('g',fig);
  
  
  const sx=b=>c.left+(b/20)*(c.right-c.left);
  const sy=v=>c.y0+(c.y1-c.y0)*(v-c.v0)/(c.v1-c.v0);

  c.yTicks.forEach(v=>{
    const y=sy(v);
    if(y>c.top&&y<c.bottom){
      const gl=mk('line',g);
      gl.setAttribute('x1',c.left);gl.setAttribute('x2',c.right);gl.setAttribute('y1',y);gl.setAttribute('y2',y);
      gl.setAttribute('stroke','#e0e0e0');gl.setAttribute('stroke-width','3.5');
      
      
    }
  });
  const vg=mk('line',g);
  vg.setAttribute('x1',sx(10));vg.setAttribute('x2',sx(10));vg.setAttribute('y1',c.top);vg.setAttribute('y2',c.bottom);
  vg.setAttribute('stroke','#e0e0e0');vg.setAttribute('stroke-width','3.5');
  
  

  const box=mk('rect',g);
  box.setAttribute('x',c.left);box.setAttribute('y',c.top);box.setAttribute('width',c.right-c.left);box.setAttribute('height',c.bottom-c.top);
  box.setAttribute('fill','none');box.setAttribute('stroke','#262626');box.setAttribute('stroke-width','3.6');
  
  

  let d='';
  c.yTicks.forEach(v=>{const y=sy(v);if(y>c.top&&y<c.bottom){d+=`M${c.left} ${y}h10M${c.right} ${y}h-10`;}});
  d+=`M${sx(10)} ${c.top}v10M${sx(10)} ${c.bottom}v-10`;
  const tk=mk('path',g);
  tk.setAttribute('d',d);tk.setAttribute('stroke','#262626');tk.setAttribute('stroke-width','3.6');tk.setAttribute('fill','none');
  
  

  xTickValues.forEach((v,i)=>{
    const t=mk('text',g);
    t.setAttribute('transform',`translate(${sx(v)},${c.xLabelBase}) scale(1,1.04)`);
    t.setAttribute('text-anchor','middle');t.setAttribute('font-size','90');
    t.textContent=xTickLabels[i];
    
    
  });
  c.yTicks.forEach(v=>{
    const t=mk('text',g);
    t.setAttribute('transform',`translate(${c.left-40},${sy(v)+36}) scale(1,1.04)`);
    t.setAttribute('text-anchor','end');t.setAttribute('font-size','90');
    t.textContent=String(v);
    
    
  });

  const bl=mk('text',g);
  bl.setAttribute('x',(c.left+c.right)/2+6);bl.setAttribute('y',c.bLabelBase);
  bl.setAttribute('text-anchor','middle');bl.setAttribute('class','math');bl.setAttribute('font-size','100');bl.setAttribute('font-style','italic');
  bl.textContent='b';
  
  

  const yl=mk('text',g);
  yl.setAttribute('transform',`translate(${c.yLabelX},${c.yLabelY}) rotate(-90)`);
  yl.setAttribute('text-anchor','middle');yl.setAttribute('class','math');yl.setAttribute('font-size','118');
  
  
  [[c.letter,'italic'],['(','normal'],['t','italic'],[')','normal']].forEach(p=>{
    const s=mk('tspan',yl);s.setAttribute('font-style',p[1]);s.textContent=p[0];
  });

  const marks=mk('g',g);
  
  
  marks.setAttribute('stroke','#ff0000');marks.setAttribute('stroke-width','4.6');marks.setAttribute('fill','none');
  const plot=(b,v)=>{
    const x=sx(b),y=sy(v);
    const m=mk('path',marks);
    m.setAttribute('d',`M${x-14} ${y}H${x+14}M${x} ${y-14}V${y+14}`);
    
    
  };
  c.branches.forEach(a=>a.forEach((v,i)=>plot(bPeriodic[i],v)));
  c.bands.forEach(a=>a.forEach((v,i)=>plot(bChaos[i],v)));
  c.cloud.forEach((col,i)=>col.forEach(v=>plot(bChaos[i],v)));
  c.lump.forEach((col,i)=>col.forEach(v=>plot(bLump[i],v)));
}

drawPanel({left:332,right:1465,top:35.6,bottom:861,v0:0,v1:6,y0:845,y1:227,xLabelBase:999,bLabelBase:1116,yLabelX:183,yLabelY:450,letter:'x',yTicks:xTicksY,
  branches:[xBranchZero,xBranchFloor,xBranchLowLower,xBranchLowUpper,xBranchMidLower,xBranchMidUpper,xBranchTopLower,xBranchTopUpper],bands:[xFloorA,xFloorB,xCoreA,xCoreB],cloud:xCloud,lump:xLump});
drawPanel({left:1868,right:3000,top:35.6,bottom:860,v0:2,v1:6,y0:658,y1:234.6,xLabelBase:999,bLabelBase:1116,yLabelX:1722,yLabelY:452,letter:'y',yTicks:yTicksY,
  branches:[yBranchLowLower,yBranchLowUpper,yBranchMidLower,yBranchMidUpper,yBranchTopLower,yBranchTopUpper],bands:[yCoreA,yCoreB],cloud:yCloud,lump:yLump});
drawPanel({left:332,right:1465,top:1271.5,bottom:2104,v0:0,v1:.4,y0:2068.7,y1:1455,xLabelBase:2238,bLabelBase:2354,yLabelX:108,yLabelY:1690,letter:'z',yTicks:zTicksY,
  branches:[zBranchFloor,zBranchLow,zBranchFlat,zBranchTopLower,zBranchTopUpper],bands:[zBandA,zBandB,zFloorA,zFloorB],cloud:zCloud,lump:[]});
drawPanel({left:1868,right:3000,top:1275,bottom:2104,v0:0,v1:2,y0:2073,y1:1407.5,xLabelBase:2238,bLabelBase:2354,yLabelX:1730,yLabelY:1694,letter:'w',yTicks:wTicksY,
  branches:[wBranchFloor,wBranchZeroMiddle,wBranchZeroUpper,wBranchLowLower,wBranchLowUpper,wBranchMidLower,wBranchMidUpper,wBranchTopLower,wBranchTopUpper],bands:[wLowC,wLowB,wLowA,wCoreA,wCoreB],cloud:wCloud,lump:wLump});
</script>
</body>
</html>
